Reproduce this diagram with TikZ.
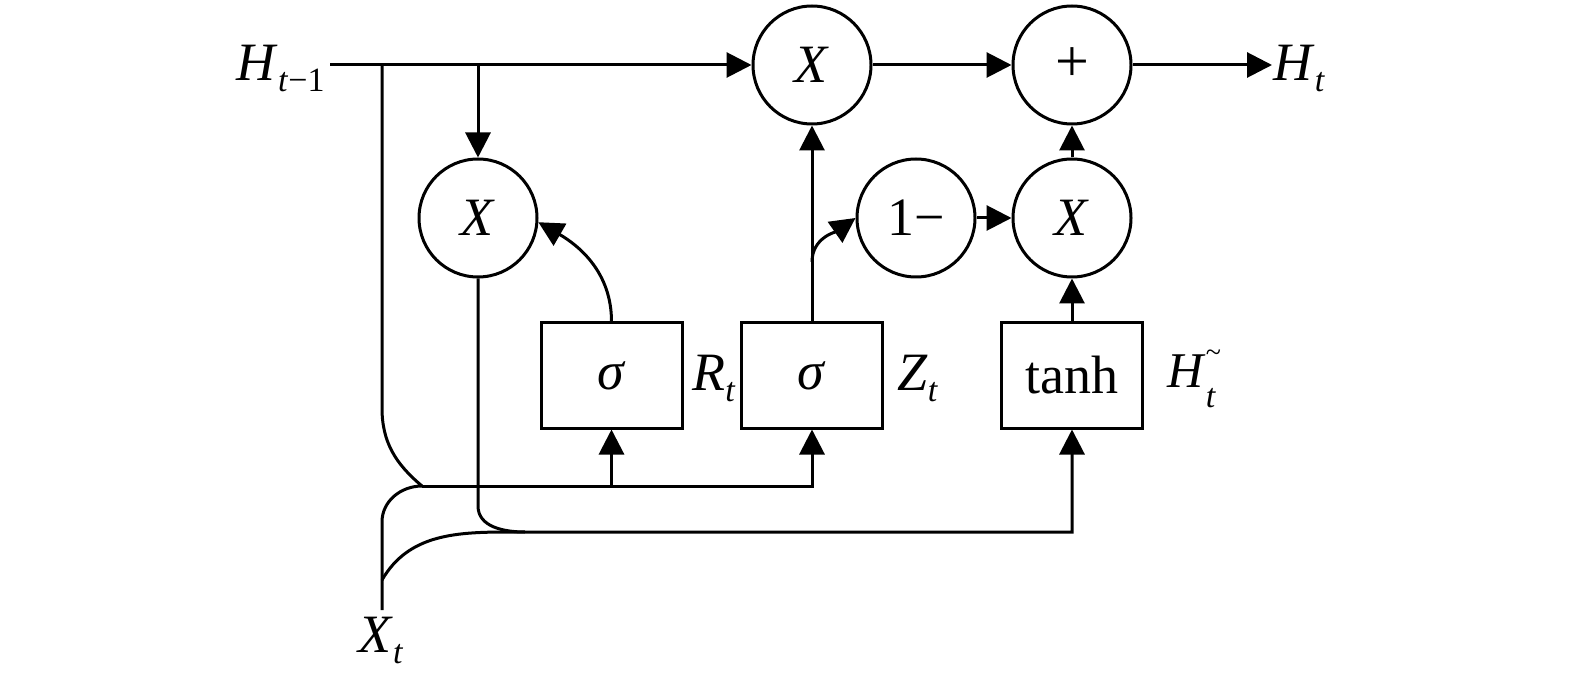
\documentclass[tikz,border=0pt]{standalone}
\usepackage{fontspec}
\setmainfont{Liberation Serif}
\usetikzlibrary{arrows.meta}
\newcommand{\lsub}[1]{\raisebox{-5.5pt}{\fontsize{17}{19}\selectfont #1}}
\begin{document}
\begin{tikzpicture}[x=0.5pt,y=0.5pt, line width=1.5pt,
  arr/.style={-{Triangle[length=12.5pt,width=12.5pt]}},
  op/.style={circle,draw,minimum size=59pt,inner sep=0pt,font=\fontsize{27}{31}\selectfont},
  gate/.style={rectangle,draw,minimum width=70.5pt,minimum height=52.5pt,inner sep=0pt,font=\fontsize{27}{31}\selectfont},
  lab/.style={inner sep=0pt,font=\fontsize{27}{31}\selectfont}]
\useasboundingbox (0,0) rectangle (1575,-684);
% operation circles
\node[op] (xt) at (812,-65) {\textit{X}};
\node[op] (pl) at (1072,-65) {\fontsize{30}{34}\selectfont +};
\node[op] (xl) at (478,-218) {\textit{X}};
\node[op] (om) at (916,-218) {1−};
\node[op] (x2) at (1072,-218) {\textit{X}};
% gates
\node[gate] (rs) at (611.5,-375.5) {\textit{σ}};
\node[gate] (zs) at (812,-375.5) {\textit{σ}};
\node[gate] (th) at (1072,-375.5) {tanh};
% labels
\node[lab,anchor=base east] (hl) at (326,-81) {\textit{H}\lsub{\textit{t}−1}};
\node[lab,anchor=base west] (ho) at (1272,-81) {\textit{H}\lsub{\textit{t}}};
\node[lab,anchor=base west] (rl) at (691,-391) {\textit{R}\lsub{\textit{t}}};
\node[lab,anchor=base west] (zl) at (896,-391) {\textit{Z}\lsub{\textit{t}}};
\node[lab,anchor=base west] (hh) at (1166,-387) {\fontsize{25}{29}\selectfont\textit{H}\rlap{\raisebox{13pt}{\fontsize{14}{16}\selectfont\textasciitilde}}\raisebox{-10pt}{\fontsize{17}{19}\selectfont\textit{t}}};
\node[lab,anchor=base west] (xtl) at (357,-652) {\textit{X}\lsub{\textit{t}}};
% junction coordinates
\coordinate (hs) at (330,-65);
\coordinate (j1) at (382,-65);
\coordinate (j2) at (478,-65);
\coordinate (c1) at (382,-408);
\coordinate (m) at (422,-486);
\coordinate (b1) at (611.5,-486);
\coordinate (b2) at (812,-486);
\coordinate (c2) at (382,-522);
\coordinate (c3) at (382,-580);
\coordinate (xb) at (382,-610);
\coordinate (n1) at (512,-532);
\coordinate (c4) at (478,-506);
\coordinate (n2) at (525,-532);
\coordinate (b3) at (1072,-532);
\coordinate (zb) at (812,-262);
% connectors
\draw[arr] (hs) -- (xt);
\draw[arr] (j2) -- (xl);
\draw (j1) -- (c1) to[out=-90,in=140] (m);
\draw[arr] (m) -- (b2) -- (zs);
\draw[arr] (b1) -- (rs);
\draw (m) to[out=180,in=90] (c2) -- (xb);
\draw[arr] (c3) to[out=60,in=180] (n1) -- (b3) -- (th);
\draw (xl.south) -- (c4) to[out=-90,in=180] (n2);
\draw[arr] (rs.north) to[out=90,in=-30] (xl.-4);
\draw[arr] (zs) -- (xt);
\draw[arr] (zb) to[out=90,in=215] (om.west);
\draw[arr] (om) -- (x2);
\draw[arr] (x2) -- (pl);
\draw[arr] (th) -- (x2);
\draw[arr] (xt) -- (pl);
\draw[arr] (pl) -- (pl -| ho.west);
\end{tikzpicture}
\end{document}
